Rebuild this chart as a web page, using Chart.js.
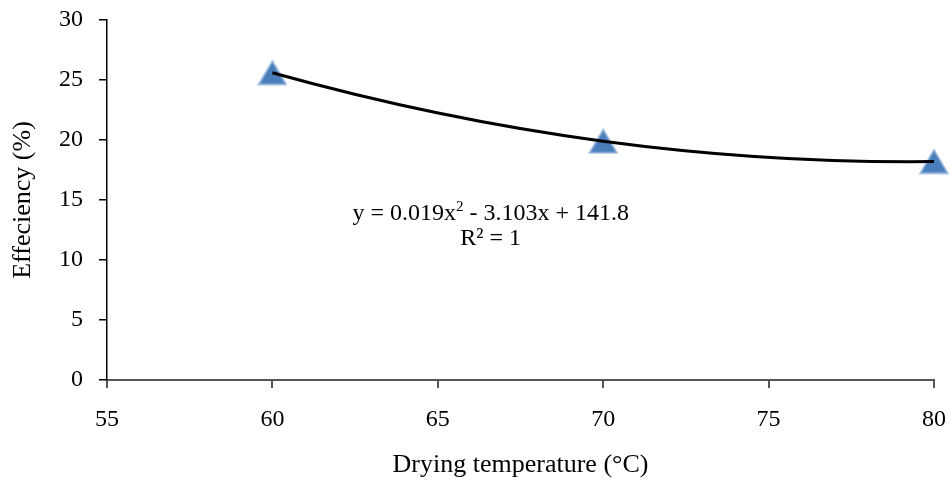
<!DOCTYPE html>
<html>
<head>
<meta charset="utf-8">
<script src="https://cdn.jsdelivr.net/npm/chart.js@4.4.0/dist/chart.umd.min.js"></script>
<style>
  html, body { margin: 0; padding: 0; background: #fff; }
  #wrap { width: 951px; height: 482px; }
</style>
</head>
<body>
<div id="wrap"><canvas id="c" width="951" height="482"></canvas></div>
<script>
// Data
const temperatures = [60, 70, 80];
const efficiency = [25.6, 19.9, 18.2];
const xTicks = [55, 60, 65, 70, 75, 80];
const yTicks = [0, 5, 10, 15, 20, 25, 30];
const equationText = ['y = 0.019x', '2', ' - 3.103x + 141.8'];
const r2Text = 'R² = 1';

const points = temperatures.map((t, i) => ({ x: t, y: efficiency[i] }));

// Triangle marker centred in its bounding box (like the source)
function makeTriangle() {
  const w = 30, h = 26;
  const cv = document.createElement('canvas');
  cv.width = w; cv.height = h;
  const g = cv.getContext('2d');
  g.beginPath();
  g.moveTo(w / 2, 1.5);
  g.lineTo(w - 1.5, h - 1.5);
  g.lineTo(1.5, h - 1.5);
  g.closePath();
  g.fillStyle = '#4a7ebb';
  g.fill();
  g.lineWidth = 2;
  g.strokeStyle = 'rgba(140,175,215,0.8)';
  g.stroke();
  return cv;
}
const tri = makeTriangle();

const FONT = "'Liberation Serif', 'Times New Roman', serif";

// Make the smooth trend curve's end tangents behave like a parabola through the points
const smoothEnds = {
  id: 'smoothEnds',
  beforeDatasetDraw(chart, args) {
    if (args.index !== 0) return;
    const meta = args.meta;
    const line = meta.dataset;
    const pts = meta.data;
    if (!line || pts.length < 3) return;
    line._pointsUpdated = false;
    line.updateControlPoints(chart.chartArea, 'x');
    const a = pts[0], b = pts[1], n = pts.length;
    const mb = (b.cp2y - b.y) / (b.cp2x - b.x);
    const s01 = (b.y - a.y) / (b.x - a.x);
    const m0 = 2 * s01 - mb;
    const d0 = (b.x - a.x) / 3;
    a.cp2x = a.x + d0; a.cp2y = a.y + m0 * d0;
    const c = pts[n - 1], p = pts[n - 2];
    const mp = (p.y - p.cp1y) / (p.x - p.cp1x);
    const s12 = (c.y - p.y) / (c.x - p.x);
    const m2 = 2 * s12 - mp;
    const d2 = (c.x - p.x) / 3;
    c.cp1x = c.x - d2; c.cp1y = c.y - m2 * d2;
  }
};

const equationPlugin = {
  id: 'equation',
  afterDraw(chart) {
    const ctx = chart.ctx;
    const xs = chart.scales.x, ys = chart.scales.y;
    const cx = xs.getPixelForValue(66.6);
    const y1 = ys.getPixelForValue(13.85);
    const y2 = ys.getPixelForValue(11.75);
    ctx.save();
    ctx.fillStyle = '#000';
    ctx.textBaseline = 'middle';
    const big = '24px ' + FONT, small = '15px ' + FONT;
    ctx.font = big;
    const w0 = ctx.measureText(equationText[0]).width;
    const w2 = ctx.measureText(equationText[2]).width;
    ctx.font = small;
    const w1 = ctx.measureText(equationText[1]).width;
    let x = cx - (w0 + w1 + w2) / 2;
    ctx.textAlign = 'left';
    ctx.font = big;
    ctx.fillText(equationText[0], x, y1);
    x += w0;
    ctx.font = small;
    ctx.fillText(equationText[1], x, y1 - 7);
    x += w1;
    ctx.font = big;
    ctx.fillText(equationText[2], x, y1);
    ctx.textAlign = 'center';
    ctx.fillText(r2Text, cx, y2);
    ctx.restore();
  }
};

new Chart(document.getElementById('c'), {
  type: 'scatter',
  data: {
    datasets: [
      {
        label: 'Trend',
        data: points,
        showLine: true,
        borderColor: '#000',
        borderWidth: 3,
        pointRadius: 0,
        cubicInterpolationMode: 'monotone',
        fill: false,
        clip: false,
        order: 0
      },
      {
        label: 'Efficiency',
        data: points,
        showLine: false,
        pointStyle: tri,
        pointRadius: 14,
        backgroundColor: '#4a7ebb',
        clip: false,
        order: 1
      }
    ]
  },
  options: {
    responsive: false,
    animation: false,
    events: [],
    layout: { padding: { top: 20, right: 17, left: 0, bottom: 0 } },
    plugins: { legend: { display: false }, tooltip: { enabled: false } },
    scales: {
      x: {
        type: 'linear',
        min: 55, max: 80,
        afterBuildTicks: s => { s.ticks = xTicks.map(v => ({ value: v })); },
        afterFit: s => { s.height = 102; s.paddingLeft = 0; s.paddingRight = 0; },
        ticks: { color: '#000', font: { family: FONT, size: 24 }, padding: 17, maxRotation: 0 },
        grid: { drawOnChartArea: false, drawTicks: true, tickLength: 8, color: '#555', lineWidth: 2 },
        border: { display: true, color: '#555', width: 2 },
        title: { display: true, text: 'Drying temperature (°C)', color: '#000', font: { family: FONT, size: 26 }, padding: { top: 4, bottom: 1 } }
      },
      y: {
        type: 'linear',
        min: 0, max: 30,
        afterBuildTicks: s => { s.ticks = yTicks.map(v => ({ value: v })); },
        afterFit: s => { s.width = 107; s.paddingTop = 0; s.paddingBottom = 0; },
        ticks: { color: '#000', font: { family: FONT, size: 24 }, padding: 16 },
        grid: { drawOnChartArea: false, drawTicks: true, tickLength: 8, color: '#000', lineWidth: 1.5 },
        border: { display: true, color: '#000', width: 1.5 },
        title: { display: true, text: 'Effeciency (%)', color: '#000', font: { family: FONT, size: 26 }, padding: { top: 8, bottom: 0 } }
      }
    }
  },
  plugins: [smoothEnds, equationPlugin]
});
</script>
</body>
</html>
